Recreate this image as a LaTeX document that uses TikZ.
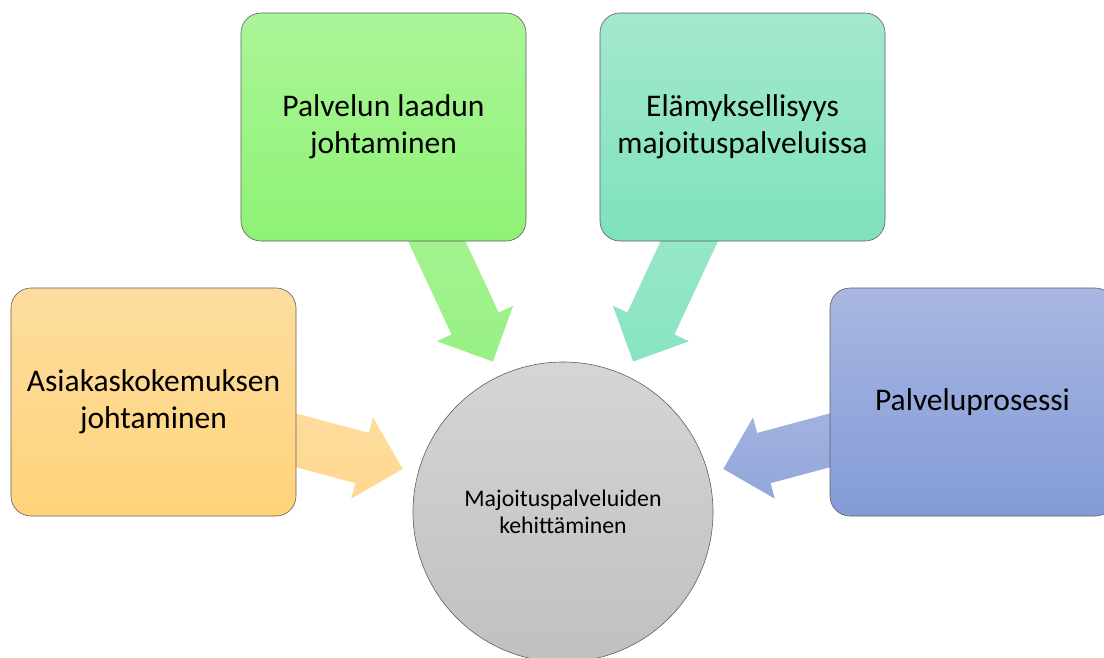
\documentclass[tikz,border=0pt]{standalone}
\usepackage{fontspec}
\setmainfont{Carlito}
\usetikzlibrary{calc,backgrounds}

% box and arrow colours
\definecolor{orTop}{RGB}{253,221,158}
\definecolor{orBot}{RGB}{255,211,122}
\definecolor{grTop}{RGB}{171,245,153}
\definecolor{grBot}{RGB}{142,242,116}
\definecolor{tlTop}{RGB}{163,232,205}
\definecolor{tlBot}{RGB}{126,226,188}
\definecolor{blTop}{RGB}{169,183,225}
\definecolor{blBot}{RGB}{131,155,216}
\definecolor{ciTop}{RGB}{213,213,213}
\definecolor{ciBot}{RGB}{192,192,192}
\definecolor{orArr}{RGB}{255,216,145}
\definecolor{grArr}{RGB}{152,241,132}
\definecolor{tlArr}{RGB}{137,228,193}
\definecolor{blArr}{RGB}{146,166,218}
\definecolor{edge}{RGB}{95,95,95}

% block arrow from a box towards the hub; it starts at the box centre and
% is covered by the box, its tip stops short of the hub's rim
\newcommand\blockarr[3]{%
  \path (#1.center) coordinate (S)
        ($(#2.center)!166pt!(#1.center)$) coordinate (T)
        ($(T)!42pt!(S)$) coordinate (B);
  \path[#3] ($(S)!26pt!90:(T)$) -- ($(B)!26pt!90:(T)$) -- ($(B)!42pt!90:(T)$)
     -- (T) -- ($(B)!42pt!-90:(T)$) -- ($(B)!26pt!-90:(T)$)
     -- ($(S)!26pt!-90:(T)$) -- cycle;
}

\tikzset{
  topic/.style={draw=edge, line width=0.6pt, rounded corners=20pt,
    minimum width=285pt, minimum height=228pt, align=center,
    font=\fontsize{31.5}{37}\selectfont, text=black},
  hub/.style={circle, draw=edge, line width=0.6pt, minimum size=300pt,
    top color=ciTop, bottom color=ciBot, align=center,
    font=\fontsize{23.8}{27}\selectfont, text=black},
}

\begin{document}
\begin{tikzpicture}[x=1pt, y=-1pt]
  \clip (0,0) rectangle (1104,657);

  \node[hub] (hub) at (563,512) {Majoituspalveluiden\\kehittäminen};

  \node[topic, top color=orTop, bottom color=orBot] (cx) at (153.5,402)
    {Asiakaskokemuksen\\johtaminen};
  \node[topic, top color=grTop, bottom color=grBot] (qual) at (383.5,127)
    {Palvelun laadun\\johtaminen};
  \node[topic, top color=tlTop, bottom color=tlBot] (exp) at (742.5,127)
    {Elämyksellisyys\\majoituspalveluissa};
  \node[topic, top color=blTop, bottom color=blBot] (proc) at (972.5,402)
    {Palveluprosessi};

  \begin{scope}[on background layer]
    \fill[white] (0,0) rectangle (1104,657);
    \blockarr{cx}{hub}{top color=orArr!85!white, bottom color=orArr}
    \blockarr{qual}{hub}{top color=grArr!80!white, bottom color=grArr}
    \blockarr{exp}{hub}{top color=tlArr!80!white, bottom color=tlArr}
    \blockarr{proc}{hub}{top color=blArr!80!white, bottom color=blArr}
  \end{scope}
\end{tikzpicture}
\end{document}
